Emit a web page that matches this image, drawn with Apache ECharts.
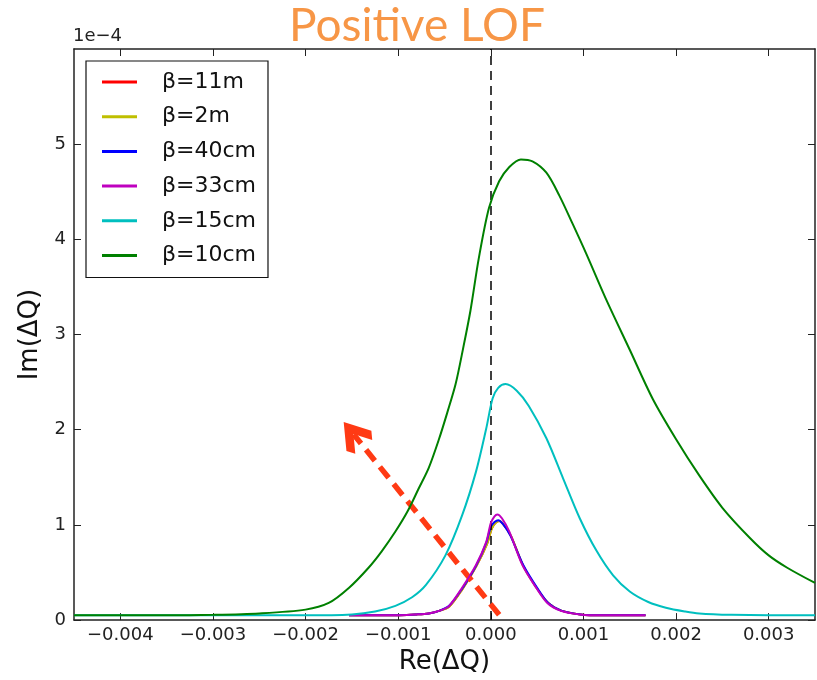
<!DOCTYPE html>
<html>
<head>
<meta charset="utf-8">
<script src="https://cdn.jsdelivr.net/npm/echarts@6/dist/echarts.min.js"></script>
<style>
html,body{margin:0;padding:0;background:#fff;}
#chart{width:817px;height:680px;}
</style>
</head>
<body>
<div id="chart"></div>
<script>
// ---- data (y values in units of 1e-4) ----
const xTicks = [-0.004, -0.003, -0.002, -0.001, 0, 0.001, 0.002, 0.003];
const yTicks = [0, 1, 2, 3, 4, 5];
const seriesNames = ['β=11m', 'β=2m', 'β=40cm', 'β=33cm', 'β=15cm', 'β=10cm'];

const x11m = [-0.00153,-0.0011,-0.0008,-0.00067,-0.00055,-0.00045,-0.00031,-0.00016,-0.00004,0.00001,0.00005,0.00009,0.00014,0.00022,0.00035,0.0005,0.00062,0.00076,0.00097,0.0012,0.00167];
const y11m = [0.05,0.05,0.06,0.07,0.1,0.14,0.32,0.56,0.8,0.96,1.02,1.04,1.0,0.88,0.57,0.33,0.18,0.1,0.06,0.05,0.05];

const x2m = [-0.00153,-0.0011,-0.0008,-0.00067,-0.00055,-0.00045,-0.00031,-0.00016,-0.00004,0.00001,0.00005,0.00009,0.00014,0.00022,0.00035,0.0005,0.00062,0.00076,0.00097,0.0012,0.00167];
const y2m = [0.05,0.05,0.06,0.07,0.1,0.14,0.32,0.56,0.8,0.96,1.02,1.04,1.0,0.88,0.57,0.33,0.18,0.1,0.06,0.05,0.05];

const x40cm = [-0.00153,-0.0011,-0.0008,-0.00067,-0.00055,-0.00045,-0.00031,-0.00016,-0.00005,0.0,0.00004,0.00008,0.00013,0.00021,0.00035,0.0005,0.00062,0.00076,0.00097,0.0012,0.00167];
const y40cm = [0.05,0.05,0.06,0.07,0.1,0.15,0.33,0.57,0.81,0.98,1.03,1.05,1.01,0.89,0.58,0.34,0.18,0.1,0.06,0.05,0.05];

const x33cm = [-0.00153,-0.0011,-0.0008,-0.00067,-0.00055,-0.00045,-0.00031,-0.00016,-0.00005,0.0,0.00004,0.00007,0.00012,0.0002,0.00034,0.00049,0.00061,0.00075,0.00096,0.0012,0.00167];
const y33cm = [0.05,0.05,0.06,0.07,0.1,0.15,0.34,0.58,0.82,1.02,1.09,1.11,1.07,0.93,0.58,0.34,0.18,0.1,0.06,0.05,0.05];

const x15cm = [-0.0045,-0.003,-0.002,-0.0015,-0.00125,-0.00103,-0.00085,-0.0007,-0.00049,-0.00031,-0.00016,-0.00005,0.00002,0.00008,0.00016,0.00028,0.00041,0.0006,0.00078,0.00096,0.00114,0.00132,0.0015,0.0017,0.00189,0.0021,0.00225,0.0026,0.003,0.0035];
const y15cm = [0.05,0.05,0.05,0.06,0.09,0.15,0.24,0.37,0.68,1.10,1.56,2.01,2.33,2.44,2.48,2.41,2.25,1.91,1.49,1.07,0.73,0.47,0.3,0.19,0.13,0.09,0.07,0.055,0.05,0.05];

const x10cm = [-0.0045,-0.004,-0.0035,-0.003,-0.0025,-0.002,-0.00175,-0.00153,-0.00132,-0.00118,-0.00103,-0.0009,-0.00078,-0.00067,-0.00056,-0.00047,-0.00038,-0.0003,-0.00022,-0.00013,-0.00002,0.00009,0.0002,0.000325,0.00045,0.0006,0.00074,0.00088,0.00103,0.00124,0.0015,0.00175,0.002,0.00225,0.0025,0.0028,0.003,0.0032,0.0035];
const y10cm = [0.05,0.05,0.05,0.055,0.07,0.11,0.18,0.34,0.55,0.72,0.93,1.14,1.38,1.60,1.90,2.18,2.48,2.85,3.25,3.80,4.33,4.61,4.76,4.84,4.82,4.70,4.46,4.17,3.85,3.38,2.84,2.32,1.90,1.52,1.18,0.86,0.68,0.55,0.39];

// annotation arrow (data coordinates) : tail -> head
const arrowTail = [0.00009, 0.056];
const arrowHead = [-0.00148, 1.95];

const colors = ['#ff0000', '#bfbf00', '#0000ff', '#bf00bf', '#00bfbf', '#008000'];
const xs = [x11m, x2m, x40cm, x33cm, x15cm, x10cm];
const ys = [y11m, y2m, y40cm, y33cm, y15cm, y10cm];

const pairs = (a, b) => a.map((v, i) => [v, b[i]]);
const fmtX = v => {
  const s = Math.abs(v).toFixed(3);
  return v < -1e-9 ? '\u2212' + s : s;
};
const FONT = 'DejaVu Sans';

const series = seriesNames.map((name, i) => ({
  name: name,
  type: 'line',
  data: pairs(xs[i], ys[i]),
  showSymbol: false,
  symbol: 'none',
  smooth: 0.3,
  lineStyle: { color: colors[i], width: 2 },
  itemStyle: { color: colors[i] },
  z: 2 + i,
  silent: true
}));

series.push({
  name: 'annot',
  type: 'line',
  data: [],
  silent: true,
  z: 20,
  markLine: {
    silent: true,
    animation: false,
    symbol: ['none', 'none'],
    label: { show: false },
    lineStyle: { color: '#000', width: 1.5, type: [9, 6] },
    data: [[{ coord: [0, 0] }, { coord: [0, 6] }]]
  }
});
series.push({
  name: 'arrow',
  type: 'line',
  data: [],
  silent: true,
  z: 30,
  markLine: {
    silent: true,
    animation: false,
    symbol: ['none', 'path://M0,0 L10,10 L6.8,13.2 L0,6.4 L-6.8,13.2 L-10,10 Z'],
    symbolSize: [32, 32],
    label: { show: false },
    lineStyle: { color: '#ff3a14', width: 5.5, type: [14, 8], opacity: 1 },
    itemStyle: { color: '#ff3a14' },
    data: [[{ coord: arrowTail }, { coord: arrowHead }]]
  }
});

const axisLine = { show: true, onZero: false, lineStyle: { color: '#222', width: 1.5 } };
const chart = echarts.init(document.getElementById('chart'), null, { renderer: 'canvas' });
chart.setOption({
  animation: false,
  backgroundColor: '#fff',
  grid: { left: 74, right: 2, top: 49, bottom: 57, containLabel: false },
  xAxis: [{
    type: 'value', min: -0.0045, max: 0.0035, position: 'bottom',
    name: 'Re(ΔQ)', nameLocation: 'middle', nameGap: 27,
    nameTextStyle: { fontFamily: FONT, fontSize: 26, color: '#111' },
    axisLine: axisLine,
    axisTick: { show: true, inside: true, length: 7, customValues: xTicks, lineStyle: { color: '#222', width: 1 } },
    axisLabel: { customValues: xTicks, formatter: fmtX, fontFamily: FONT, fontSize: 18, color: '#222', margin: 6 },
    splitLine: { show: false }
  }, {
    type: 'value', min: -0.0045, max: 0.0035, position: 'top',
    axisLine: axisLine,
    axisTick: { show: true, inside: true, length: 7, customValues: xTicks, lineStyle: { color: '#222', width: 1 } },
    axisLabel: { show: false },
    splitLine: { show: false }
  }],
  yAxis: [{
    type: 'value', min: 0, max: 6, interval: 1, position: 'left',
    name: 'Im(ΔQ)', nameLocation: 'middle', nameGap: 28,
    nameTextStyle: { fontFamily: FONT, fontSize: 26, color: '#111' },
    axisLine: axisLine,
    axisTick: { show: true, inside: true, length: 7, customValues: yTicks, lineStyle: { color: '#222', width: 1 } },
    axisLabel: { customValues: yTicks, fontFamily: FONT, fontSize: 18, color: '#222', margin: 8 },
    splitLine: { show: false }
  }, {
    type: 'value', min: 0, max: 6, interval: 1, position: 'right',
    axisLine: axisLine,
    axisTick: { show: true, inside: true, length: 7, customValues: yTicks, lineStyle: { color: '#222', width: 1 } },
    axisLabel: { show: false },
    splitLine: { show: false }
  }],
  legend: {
    data: seriesNames,
    orient: 'vertical',
    left: 86, top: 61,
    padding: [10, 12, 11, 16],
    itemGap: 12.7,
    itemWidth: 35, itemHeight: 3,
    icon: 'rect',
    borderColor: '#111', borderWidth: 1.2, borderRadius: 0,
    backgroundColor: '#fff',
    selectedMode: false,
    textStyle: { fontFamily: FONT, fontSize: 22, lineHeight: 22, color: '#111', padding: [0, 0, 0, 20] }
  },
  graphic: [{
    type: 'text', left: 73, top: 27,
    style: { text: '1e\u22124', font: '18px "DejaVu Sans"', fill: '#222' }
  }, {
    type: 'text', x: 417, y: 26,
    style: { text: 'Positive LOF', font: '46px Lato', fill: '#f79646', textAlign: 'center', textVerticalAlign: 'middle' }
  }],
  series: series
});
</script>
</body>
</html>
